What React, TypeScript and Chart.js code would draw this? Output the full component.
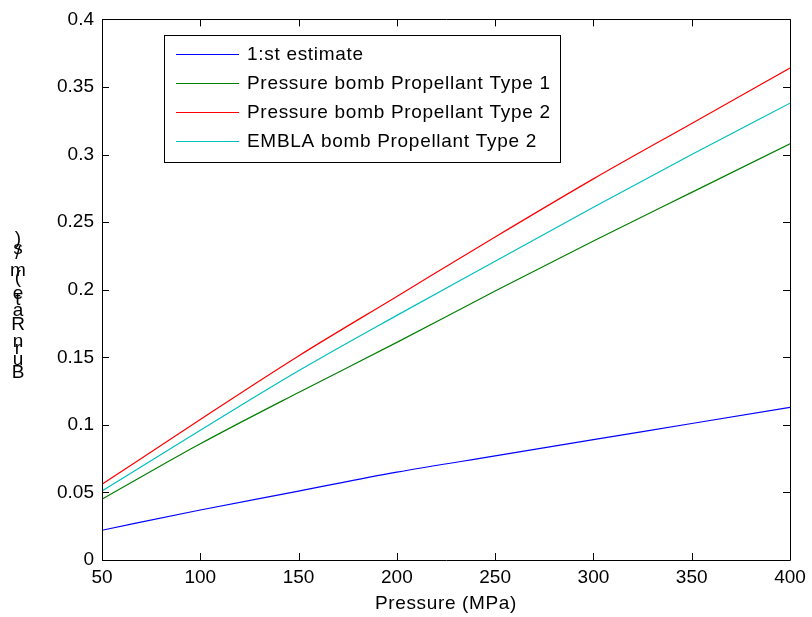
import React, { useEffect, useRef } from "react";
import { Chart, registerables } from "chart.js";
Chart.register(...registerables);

const pressures = [50, 100, 150, 200, 250, 300, 350, 400];
const firstEstimate = [0.022, 0.037, 0.051, 0.065, 0.077, 0.089, 0.101, 0.113];
const bombType1 = [0.045, 0.086, 0.124, 0.161, 0.199, 0.236, 0.272, 0.308];
const bombType2 = [0.056, 0.104, 0.151, 0.195, 0.239, 0.282, 0.323, 0.364];
const emblaType2 = [0.051, 0.096, 0.14, 0.181, 0.221, 0.261, 0.3, 0.338];
const seriesNames = [
  "1:st estimate",
  "Pressure bomb Propellant Type 1",
  "Pressure bomb Propellant Type 2",
  "EMBLA bomb Propellant Type 2",
];
const seriesColors = ["#0000ff", "#008000", "#ff0000", "#00bfbf"];
const xTitle = "Pressure (MPa)";
const yTitle = "Burn Rate (m/s)";
const xTicks = [50, 100, 150, 200, 250, 300, 350, 400];
const yTicks = [0, 0.05, 0.1, 0.15, 0.2, 0.25, 0.3, 0.35, 0.4];

const FONT = "Liberation Sans, Arial, sans-serif";

const framePlugin = {
  id: "matlabFrame",
  afterDraw(chart: any) {
    const ctx = chart.ctx;
    const { left, right, top, bottom } = chart.chartArea;
    const xs = chart.scales.x;
    const ys = chart.scales.y;
    ctx.save();
    ctx.strokeStyle = "#000";
    ctx.lineWidth = 1;
    ctx.beginPath();
    ctx.rect(Math.round(left) + 0.5, Math.round(top) + 0.5, Math.round(right - left), Math.round(bottom - top));
    ctx.stroke();
    const tl = 7;
    ctx.beginPath();
    xTicks.forEach((v) => {
      const px = Math.round(xs.getPixelForValue(v)) + 0.5;
      ctx.moveTo(px, bottom);
      ctx.lineTo(px, bottom - tl);
      ctx.moveTo(px, top);
      ctx.lineTo(px, top + tl);
    });
    yTicks.forEach((v) => {
      const py = Math.round(ys.getPixelForValue(v)) + 0.5;
      ctx.moveTo(left, py);
      ctx.lineTo(left + tl, py);
      ctx.moveTo(right, py);
      ctx.lineTo(right - tl, py);
    });
    ctx.stroke();

    ctx.fillStyle = "#000";
    ctx.font = `19px ${FONT}`;
    (ctx as any).letterSpacing = "0.65px";
    ctx.textAlign = "center";
    ctx.textBaseline = "alphabetic";
    ctx.fillText(xTitle, (left + right) / 2, 609);

    // y title (stacked upright glyphs)
    (ctx as any).letterSpacing = "0px";
    let y = 378;
    for (const ch of yTitle) {
      ctx.fillText(ch, 18, y);
      y -= ctx.measureText(ch).width * 1.05;
    }

    // legend
    (ctx as any).letterSpacing = "0.7px";
    const lx = 164, ly = 35, lw = 396, lh = 127;
    ctx.fillStyle = "#fff";
    ctx.fillRect(lx, ly, lw, lh);
    ctx.strokeStyle = "#000";
    ctx.strokeRect(lx + 0.5, ly + 0.5, lw, lh);
    ctx.textAlign = "left";
    ctx.textBaseline = "middle";
    const rows = [54, 83, 112, 141];
    chart.data.datasets.forEach((ds: any, i: number) => {
      ctx.strokeStyle = ds.borderColor;
      ctx.beginPath();
      ctx.moveTo(176, rows[i] + 0.5);
      ctx.lineTo(239, rows[i] + 0.5);
      ctx.stroke();
      ctx.fillStyle = "#000";
      ctx.fillText(ds.label, 247, rows[i] + 1);
    });
    ctx.restore();
  },
};

export default function App() {
  const ref = useRef<HTMLCanvasElement>(null);
  useEffect(() => {
    document.body.style.margin = "0";
    const series = [firstEstimate, bombType1, bombType2, emblaType2];
    const chart = new Chart(ref.current!, {
      type: "line",
      data: {
        datasets: series.map((s, i) => ({
          label: seriesNames[i],
          data: pressures.map((p, j) => ({ x: p, y: s[j] })),
          borderColor: seriesColors[i],
          backgroundColor: seriesColors[i],
          borderWidth: 1.2,
          pointRadius: 0,
          cubicInterpolationMode: "monotone" as const,
        })),
      },
      options: {
        responsive: false,
        animation: false,
        layout: { padding: { top: 16, right: 22, left: 0, bottom: 0 } },
        plugins: { legend: { display: false }, tooltip: { enabled: false } },
        scales: {
          x: {
            type: "linear",
            min: 50,
            max: 400,
            afterBuildTicks: (s: any) => {
              s.ticks = xTicks.map((v) => ({ value: v }));
            },
            afterFit: (s: any) => {
              s.height = 57;
            },
            grid: { display: false, drawTicks: false },
            border: { display: false },
            ticks: {
              color: "#000",
              font: { family: FONT, size: 19 },
              padding: 6,
              maxRotation: 0,
              autoSkip: false,
              callback: (v: any) => String(v),
            },
          },
          y: {
            type: "linear",
            min: 0,
            max: 0.4,
            afterBuildTicks: (s: any) => {
              s.ticks = yTicks.map((v) => ({ value: v }));
            },
            afterFit: (s: any) => {
              s.width = 102;
            },
            grid: { display: false, drawTicks: false },
            border: { display: false },
            ticks: {
              color: "#000",
              font: { family: FONT, size: 19 },
              padding: 8,
              autoSkip: false,
              callback: (v: any) => String(Number(Number(v).toFixed(2))),
            },
          },
        },
      },
      plugins: [framePlugin],
    });
    return () => chart.destroy();
  }, []);
  return (
    <div style={{ width: 812, height: 617, background: "#fff" }}>
      <canvas ref={ref} width={812} height={617} />
    </div>
  );
}
